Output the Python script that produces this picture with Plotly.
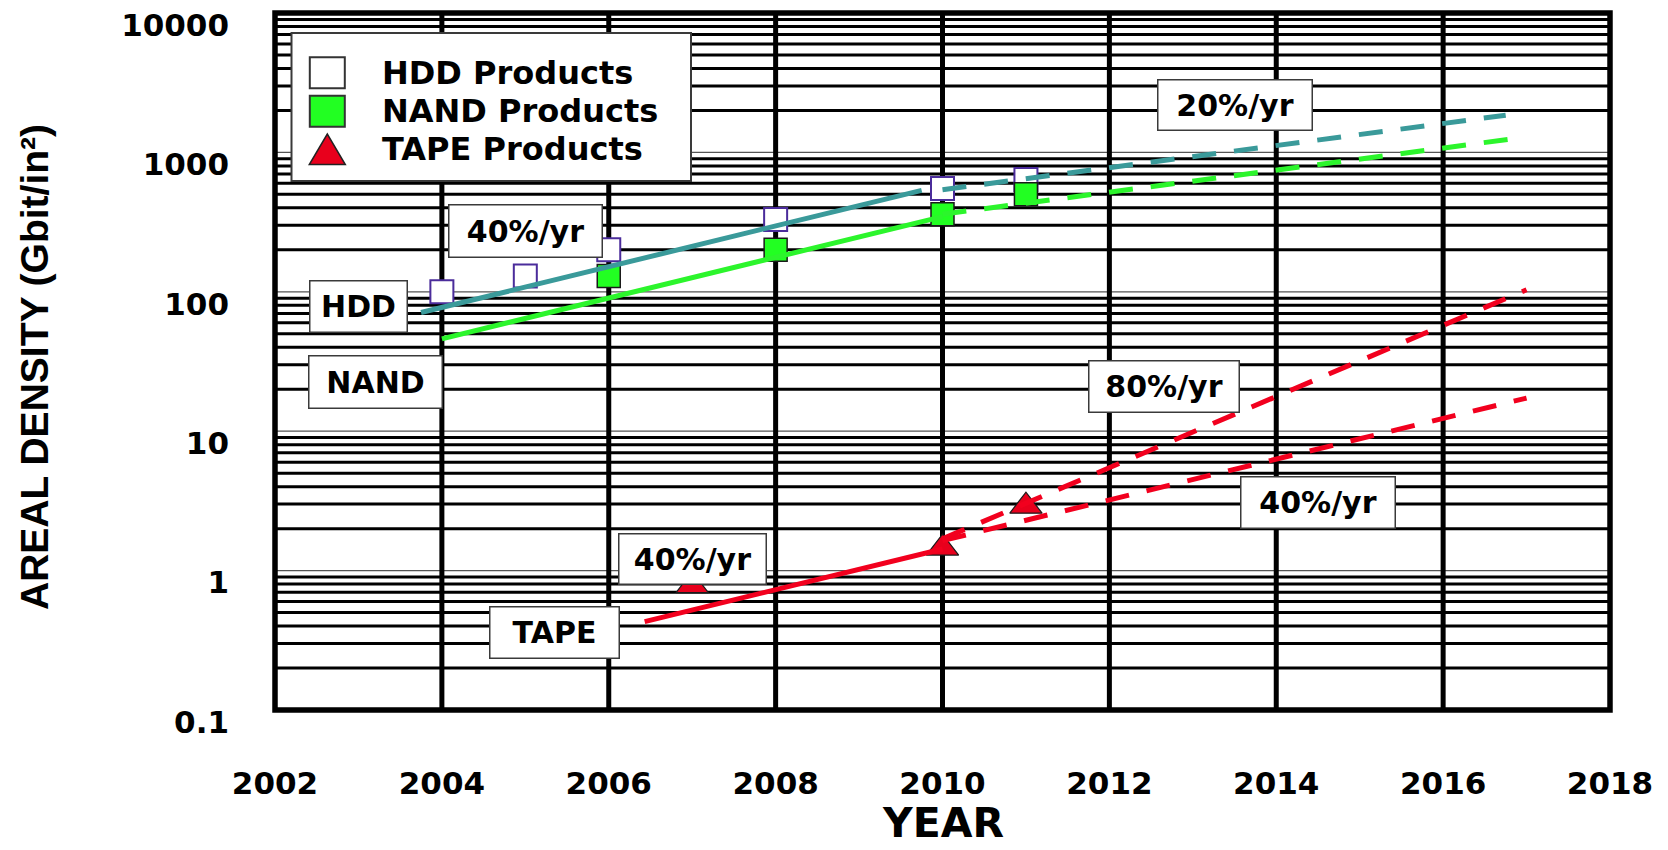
import math
import plotly.graph_objects as go

# ---------------- data ----------------
x_tick_years = [2002, 2004, 2006, 2008, 2010, 2012, 2014, 2016, 2018]
y_tick_values = [0.1, 1, 10, 100, 1000, 10000]
y_tick_text = ["0.1", "1", "10", "100", "1000", "10000"]

hdd_years = [2004, 2005, 2006, 2008, 2010, 2011]
hdd_density = [100, 130, 200, 330, 550, 640]

nand_years = [2006, 2008, 2010, 2011]
nand_density = [130, 200, 360, 500]

tape_years = [2007, 2010, 2011]
tape_density = [0.78, 1.45, 2.9]

# growth-rate fits: span of years, density at first year, annual growth
hdd_fit_span = [2003.75, 2009.75]
hdd_fit_start = 71
hdd_fit_rate = 0.40
hdd_proj_span = [2010, 2016.75]
hdd_proj_start = 540
hdd_proj_rate = 0.20

nand_fit_span = [2004, 2010]
nand_fit_start = 46
nand_fit_rate = 0.40
nand_proj_span = [2010, 2016.8]
nand_proj_start = 360
nand_proj_rate = 0.20

tape_fit_span = [2006.43, 2010]
tape_fit_start = 0.43
tape_fit_rate = 0.40
tape_fast_span = [2010, 2017]
tape_fast_start = 1.69
tape_fast_rate = 0.80
tape_slow_span = [2010, 2017]
tape_slow_start = 1.64
tape_slow_rate = 0.40

x_title = "YEAR"
y_title = "AREAL DENSITY (Gbit/in²)"

# ---------------- page geometry ----------------
FIG_W, FIG_H = 1668, 850
M_L, M_R, M_T, M_B = 275, 58, 13, 140
PLOT_W = FIG_W - M_L - M_R
PLOT_H = FIG_H - M_T - M_B

FONT = "DejaVu Sans"
TITLE_FONT = "Liberation Sans"
TEAL = "#3A9A9A"
GREEN = "#2CF52C"
RED = "#F2001E"
GREEN_FILL = "#22FF22"
RED_FILL = "#E8001C"


def paper_x(px):
    return (px - M_L) / PLOT_W


def paper_y(py):
    return (FIG_H - M_B - py) / PLOT_H


def growth_line(span, start, rate):
    """Two end points of a constant-growth line (straight on a log axis)."""
    ys = [start * (1 + rate) ** (t - span[0]) for t in span]
    return span, ys


def rate_text(rate):
    return f"{round(rate * 100)}%/yr"


fig = go.Figure()

# product data points
fig.add_trace(go.Scatter(
    x=hdd_years, y=hdd_density, mode="markers", name="HDD Products",
    marker=dict(symbol="square", size=23, color="white",
                line=dict(color="#4B2C9B", width=2)),
    showlegend=False))
fig.add_trace(go.Scatter(
    x=nand_years, y=nand_density, mode="markers", name="NAND Products",
    marker=dict(symbol="square", size=23, color=GREEN_FILL,
                line=dict(color="#1a1a1a", width=1.5)),
    showlegend=False))
fig.add_trace(go.Scatter(
    x=tape_years, y=tape_density, mode="markers", name="TAPE Products",
    marker=dict(symbol="triangle-up", size=28, color=RED_FILL,
                line=dict(color="#1a1a1a", width=1.2)),
    showlegend=False))

# growth trend lines (solid = fitted history, dashed = projection)
trend_specs = [
    (hdd_fit_span, hdd_fit_start, hdd_fit_rate, TEAL, "solid"),
    (hdd_proj_span, hdd_proj_start, hdd_proj_rate, TEAL, "24px,18px"),
    (nand_fit_span, nand_fit_start, nand_fit_rate, GREEN, "solid"),
    (nand_proj_span, nand_proj_start, nand_proj_rate, GREEN, "24px,18px"),
    (tape_fit_span, tape_fit_start, tape_fit_rate, RED, "solid"),
    (tape_fast_span, tape_fast_start, tape_fast_rate, RED, "24px,18px"),
    (tape_slow_span, tape_slow_start, tape_slow_rate, RED, "24px,18px"),
]
for span, start, rate, color, dash in trend_specs:
    xs, ys = growth_line(span, start, rate)
    fig.add_trace(go.Scatter(
        x=xs, y=ys, mode="lines", showlegend=False, hoverinfo="skip",
        line=dict(color=color, width=5, dash=dash)))

# ---------------- grid, frame ----------------
shapes = []
for e in range(-1, 4):
    for k in range(1, 10):
        v = k * 10.0 ** e
        decade = (k == 1)
        shapes.append(dict(
            type="line", xref="paper", x0=0, x1=1, yref="y", y0=v, y1=v,
            layer="below",
            line=dict(color="#555555" if decade else "black",
                      width=1.2 if decade else 3)))
for yr in x_tick_years[1:-1]:
    shapes.append(dict(
        type="line", xref="x", x0=yr, x1=yr, yref="paper", y0=0, y1=1,
        layer="below", line=dict(color="black", width=5)))
shapes.append(dict(
    type="rect", xref="paper", yref="paper", x0=0, x1=1, y0=0, y1=1,
    layer="above", line=dict(color="black", width=5.5),
    fillcolor="rgba(0,0,0,0)"))

# ---------------- legend box ----------------
shapes.append(dict(
    type="rect", xref="paper", yref="paper",
    x0=paper_x(291.5), x1=paper_x(691), y0=paper_y(181), y1=paper_y(33),
    layer="above", fillcolor="white", line=dict(color="#3a3a3a", width=2)))

legend_rows = [
    ("HDD Products", 72.7, "square", "white"),
    ("NAND Products", 111.2, "square", GREEN_FILL),
    ("TAPE Products", 149.5, "triangle", RED_FILL),
]
sym_x = paper_x(327.3)
annotations = []
for label, row_y, kind, fill in legend_rows:
    if kind == "square":
        shapes.append(dict(
            type="rect", xref="paper", yref="paper",
            xsizemode="pixel", ysizemode="pixel",
            xanchor=sym_x, yanchor=paper_y(row_y),
            x0=-17.5, x1=17.5, y0=-15.5, y1=15.5,
            layer="above", fillcolor=fill,
            line=dict(color="#333333", width=2)))
    else:
        shapes.append(dict(
            type="path", xref="paper", yref="paper",
            xsizemode="pixel", ysizemode="pixel",
            xanchor=sym_x, yanchor=paper_y(row_y),
            path="M -18,-15 L 18,-15 L 0,15.5 Z",
            layer="above", fillcolor=fill,
            line=dict(color="#222222", width=1.5)))
    annotations.append(dict(
        xref="paper", yref="paper", x=paper_x(380), y=paper_y(row_y),
        xanchor="left", yanchor="middle", text=label, showarrow=False,
        font=dict(family=FONT, size=32, color="black", weight="bold")))

# ---------------- boxed labels ----------------
box_labels = [
    # text, year, density, box width, box height
    (rate_text(hdd_fit_rate), 2005.0, 275, 155, 54),
    ("HDD", 2003.0, 78, 99, 53),
    ("NAND", 2003.2, 22.7, 135, 54),
    (rate_text(hdd_proj_rate), 2013.5, 2200, 156, 52),
    (rate_text(tape_fast_rate), 2012.65, 21, 152, 53),
    (rate_text(tape_slow_rate), 2014.5, 3.1, 156, 53),
    (rate_text(tape_fit_rate), 2007.0, 1.22, 149, 52),
    ("TAPE", 2005.35, 0.357, 131, 53),
]
for text, yr, dens, bw, bh in box_labels:
    annotations.append(dict(
        xref="x", yref="y", x=yr, y=math.log10(dens),
        xanchor="center", yanchor="middle", text=text, showarrow=False,
        width=bw - 5, height=bh - 5, borderpad=1, borderwidth=1.5,
        bordercolor="#3a3a3a", bgcolor="white", align="center", valign="middle",
        font=dict(family=FONT, size=30, color="black", weight="bold")))

# ---------------- axis titles ----------------
annotations.append(dict(
    xref="paper", yref="paper", x=0.5, y=paper_y(849),
    xanchor="center", yanchor="bottom", text=x_title, showarrow=False,
    font=dict(family=FONT, size=41, color="black", weight="bold")))
annotations.append(dict(
    xref="paper", yref="paper", x=paper_x(35), y=paper_y(367),
    xanchor="center", yanchor="middle", text=y_title, showarrow=False,
    textangle=-90,
    font=dict(family=TITLE_FONT, size=39, color="black", weight="bold")))

fig.update_layout(
    width=FIG_W, height=FIG_H,
    margin=dict(l=M_L, r=M_R, t=M_T, b=M_B, autoexpand=False),
    paper_bgcolor="white", plot_bgcolor="rgba(0,0,0,0)",
    shapes=shapes, annotations=annotations, showlegend=False,
    font=dict(family=FONT, color="black"),
)
fig.update_xaxes(
    range=[x_tick_years[0], x_tick_years[-1]], tickmode="array",
    tickvals=x_tick_years, ticktext=[str(y) for y in x_tick_years],
    showgrid=False, zeroline=False, showline=False, ticks="",
    ticklabelstandoff=52,
    tickfont=dict(family=FONT, size=31, color="black", weight="bold"),
)
fig.update_yaxes(
    type="log", range=[-1, 4], tickmode="array",
    tickvals=y_tick_values, ticktext=y_tick_text,
    showgrid=False, zeroline=False, showline=False, ticks="",
    ticklabelstandoff=45, ticklabelshift=12,
    tickfont=dict(family=FONT, size=31, color="black", weight="bold"),
)

fig.write_html("out.html")
